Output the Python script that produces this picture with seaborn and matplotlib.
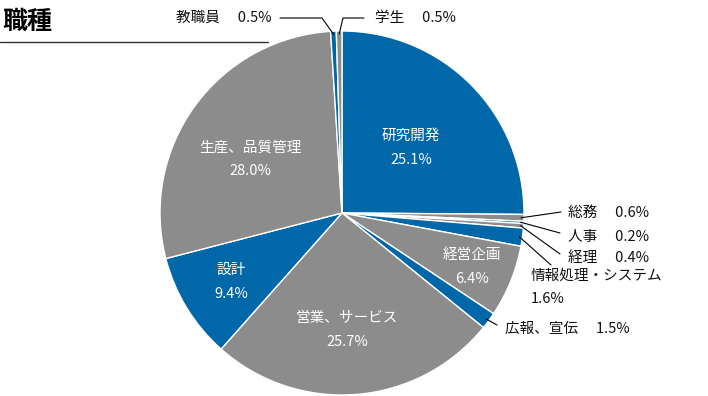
"""Pie chart of occupation shares (職種)."""

import matplotlib

matplotlib.use("Agg")
import matplotlib.pyplot as plt
import numpy as np
import seaborn as sns

# data
jobs = [
    "研究開発", "総務", "人事", "経理", "情報処理・システム", "経営企画",
    "広報、宣伝", "営業、サービス", "設計", "生産、品質管理", "教職員", "学生",
]
shares = [25.1, 0.6, 0.2, 0.4, 1.6, 6.4, 1.5, 25.7, 9.4, 28.0, 0.5, 0.5]
title = "職種"

BLUE = "#0067a9"
GRAY = "#8c8c8c"
W, H = 708, 396
CX, CY, R = 342, 213, 182  # pie centre / radius in pixels (y from top)
FS = 10.5

# layout: inside label centres (pixels) and outside labels (pixel anchors)
inside = {0: (411, 148), 5: (472, 267), 7: (347, 330), 8: (231, 282), 9: (250, 159)}
outside = {
    # idx: (text x, text y, ha, leader end x, leader end y, elbow)
    10: (272, 18, "right", 280, 18, (322, 18)),
    11: (375, 18, "left", 364, 18, (343, 18)),
    1: (568, 213, "left", 561, 212, None),
    2: (568, 237, "left", 560, 233, None),
    3: (568, 258, "left", 560, 254, None),
    4: (531, 269, "left", 551, 265, None),
    6: (505, 329, "left", 497, 325, None),
}

sns.set_theme(style="white")
plt.rcParams["font.family"] = ["Noto Sans CJK JP", "DejaVu Sans"]


def py(y):
    return H - y


fig = plt.figure(figsize=(W / 100, H / 100), dpi=100)
ax = fig.add_axes([0, 0, 1, 1])

colors = [BLUE if i % 2 == 0 else GRAY for i in range(len(shares))]
wedges, _ = ax.pie(
    shares,
    colors=colors,
    startangle=90,
    counterclock=False,
    center=(CX, py(CY)),
    radius=R,
    wedgeprops=dict(edgecolor="white", linewidth=1),
    frame=True,
)
ax.set_xlim(0, W)
ax.set_ylim(0, H)
ax.set_aspect("equal")
ax.axis("off")

for i, (x, y) in inside.items():
    ax.text(x, py(y), f"{jobs[i]}\n{shares[i]:.1f}%", color="white", fontsize=FS,
            ha="center", va="center", linespacing=1.85)

for i, (tx, ty, ha, lx, ly, elbow) in outside.items():
    w = wedges[i]
    ang = np.deg2rad((w.theta1 + w.theta2) / 2)
    ex = CX + (R - 3) * np.cos(ang)
    ey = py(CY) + (R - 3) * np.sin(ang)
    xs, ys = [ex], [ey]
    if elbow is not None:
        xs.append(elbow[0])
        ys.append(py(elbow[1]))
    xs.append(lx)
    ys.append(py(ly))
    ax.plot(xs, ys, color="black", lw=0.8)
    if i == 4:
        label = f"{jobs[i]}\n{shares[i]:.1f}%"
        ax.text(tx, py(ty), label, fontsize=FS, ha=ha, va="top",
                linespacing=1.85, color="#111111")
    else:
        label = f"{jobs[i]}　 {shares[i]:.1f}%"
        ax.text(tx, py(ty), label, fontsize=FS, ha=ha, va="center",
                color="#111111")

ax.text(2, py(22), title, fontsize=18, fontweight="bold", ha="left",
        va="center", color="black")
ax.plot([0, 268], [py(42), py(42)], color="#333333", lw=1)

fig.savefig("out.png", dpi=100)
